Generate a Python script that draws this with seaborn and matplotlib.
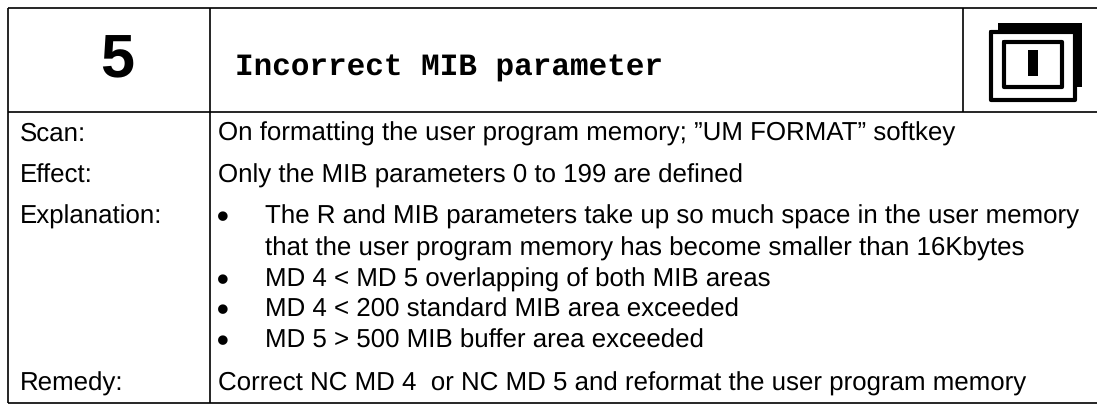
import matplotlib
matplotlib.use("Agg")
import matplotlib.pyplot as plt
import seaborn as sns

sns.set_theme(style="white")
plt.rcParams["font.family"] = ["Liberation Sans", "DejaVu Sans"]
plt.rcParams["text.hinting"] = "no_hinting"

number = "5"
title = "Incorrect MIB parameter"
row_labels = ["Scan:", "Effect:", "Explanation:", "Remedy:"]
scan_text = "On formatting the user program memory; ”UM FORMAT” softkey"
effect_text = "Only the MIB parameters 0 to 199 are defined"
bullets = [
    "The R and MIB parameters take up so much space in the user memory\nthat the user program memory has become smaller than 16Kbytes",
    "MD 4 < MD 5 overlapping of both MIB areas",
    "MD 4 < 200 standard MIB area exceeded",
    "MD 5 > 500 MIB buffer area exceeded",
]
remedy_text = "Correct NC MD 4  or NC MD 5 and reformat the user program memory"

f, ax = plt.subplots(figsize=(10.97, 4.05), dpi=100)
f.subplots_adjust(0, 0, 1, 1)
ax.set(xlim=(0, 1097), ylim=(405, 0), xticks=[], yticks=[])
sns.despine(left=True, bottom=True, right=True, top=True)

# table rules, they run off the right edge
ax.hlines([8, 112, 403], 8, 1097, color="black", lw=1.2)
ax.vlines([8, 210], 8, 403, color="black", lw=1.2)
ax.vlines(963, 8, 112, color="black", lw=1.2)

# header
ax.text(117, 77, number, fontsize=44, fontweight="bold", ha="center", va="baseline", color="black")
ax.text(235, 76, title, fontsize=22.3, fontweight="bold", family="Liberation Mono", va="baseline", color="black")

# left column and text
body = dict(fontsize=18.6, va="baseline", color="black")
for label, y in zip(row_labels, [141, 183, 224, 391]):
    ax.text(20, y, label, **body)
ax.text(218, 141, scan_text, **body)
ax.text(218, 183, effect_text, **body)
ax.text(218, 391, remedy_text, **body)

# bullets
bullet_y = [224, 287, 317, 348]
for text, y in zip(bullets, bullet_y):
    ax.text(223, y + 3, "•", fontsize=24, fontweight="bold", ha="center", va="baseline", color="black")
    ax.text(265, y, text.split("\n")[0], **body)
    if "\n" in text:
        ax.text(265, y + 32, text.split("\n")[1], **body)

# window icon
ax.fill_between([998, 1082], 23, 33, color="black", lw=0)
ax.fill_between([1077, 1082], 23, 87, color="black", lw=0)
ax.plot([991, 991, 1075, 1075, 991], [32, 100, 100, 32, 32], color="black", lw=3)
ax.plot([1004, 1004, 1062, 1062, 1004], [42, 87, 87, 42, 42], color="black", lw=3)
ax.fill_between([1028, 1038], 50, 76, color="black", lw=0)

plt.savefig("out.png")
